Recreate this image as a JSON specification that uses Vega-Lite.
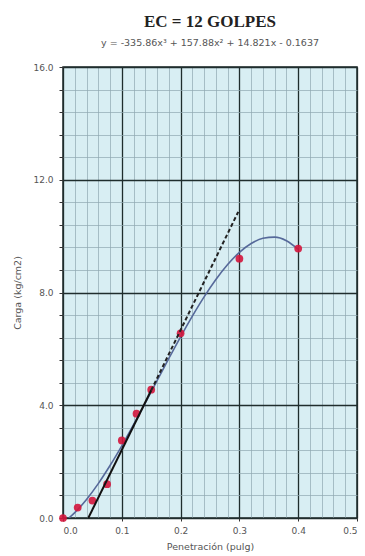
{
  "$schema": "https://vega.github.io/schema/vega-lite/v6.json",
  "autosize": "none",
  "width": 294,
  "height": 451,
  "padding": {"left": 63, "top": 67, "right": 8, "bottom": 38},
  "background": "white",
  "title": {
    "text": "EC = 12 GOLPES",
    "subtitle": "y = -335.86x³ + 157.88x² + 14.821x - 0.1637",
    "font": "Liberation Serif",
    "fontSize": 17,
    "fontWeight": "bold",
    "color": "#222",
    "subtitleFont": "DejaVu Sans",
    "subtitleFontSize": 9.5,
    "subtitleColor": "#555",
    "subtitlePadding": 7,
    "anchor": "middle",
    "offset": 15
  },
  "config": {
    "view": {"fill": "#d8eef3", "stroke": "#1e2a2a", "strokeWidth": 1.5},
    "axis": {
      "labelFont": "DejaVu Sans",
      "titleFont": "DejaVu Sans",
      "labelFontSize": 9,
      "titleFontSize": 9.5,
      "labelColor": "#555",
      "titleColor": "#555",
      "titleFontWeight": "normal",
      "domain": false,
      "tickColor": "#333",
      "tickSize": 3
    }
  },
  "datasets": {
    "pts": [
      {"x": 0.0, "y": 0.0},
      {"x": 0.025, "y": 0.37},
      {"x": 0.05, "y": 0.62},
      {"x": 0.075, "y": 1.2},
      {"x": 0.1, "y": 2.75},
      {"x": 0.125, "y": 3.7},
      {"x": 0.15, "y": 4.55},
      {"x": 0.2, "y": 6.55},
      {"x": 0.3, "y": 9.2},
      {"x": 0.4, "y": 9.56}
    ],
    "curve": [
      {"x": 0.01, "y": 0.0},
      {"x": 0.02, "y": 0.193},
      {"x": 0.04, "y": 0.66},
      {"x": 0.06, "y": 1.221},
      {"x": 0.08, "y": 1.861},
      {"x": 0.1, "y": 2.561},
      {"x": 0.12, "y": 3.308},
      {"x": 0.14, "y": 4.084},
      {"x": 0.16, "y": 4.874},
      {"x": 0.18, "y": 5.661},
      {"x": 0.2, "y": 6.429},
      {"x": 0.22, "y": 7.162},
      {"x": 0.24, "y": 7.844},
      {"x": 0.26, "y": 8.459},
      {"x": 0.28, "y": 8.991},
      {"x": 0.3, "y": 9.424},
      {"x": 0.32, "y": 9.74},
      {"x": 0.34, "y": 9.926},
      {"x": 0.36, "y": 9.963},
      {"x": 0.38, "y": 9.837},
      {"x": 0.4, "y": 9.531}
    ],
    "solid": [
      {"x": 0.043, "y": 0.0},
      {"x": 0.15, "y": 4.53}
    ],
    "dashed": [
      {"x": 0.15, "y": 4.53},
      {"x": 0.298, "y": 10.86}
    ]
  },
  "encoding": {
    "x": {
      "field": "x",
      "type": "quantitative",
      "scale": {"domain": [0, 0.5], "nice": false, "zero": false},
      "axis": {
        "title": "Penetración (pulg)",
        "titlePadding": 6,
        "values": [0,0.02,0.04,0.06,0.08,0.1,0.12,0.14,0.16,0.18,0.2,0.22,0.24,0.26,0.28,0.3,0.32,0.34,0.36,0.38,0.4,0.42,0.44,0.46,0.48,0.5],
        "labelExpr": "abs(datum.value*10 - round(datum.value*10)) < 0.001 ? format(datum.value, '.1f') : ''",
        "grid": true,
        "gridColor": {"condition": {"test": "abs(datum.value*10 - round(datum.value*10)) < 0.001", "value": "#1f2d2d"}, "value": "#8fa7b0"},
        "gridWidth": {"condition": {"test": "abs(datum.value*10 - round(datum.value*10)) < 0.001", "value": 1.3}, "value": 0.7},
        "tickSize": {"condition": {"test": "abs(datum.value*10 - round(datum.value*10)) < 0.001", "value": 3}, "value": 0},
        "labelPadding": 5
      }
    },
    "y": {
      "field": "y",
      "type": "quantitative",
      "scale": {"domain": [0, 16], "nice": false, "zero": false},
      "axis": {
        "title": "Carga (kg/cm2)",
        "titlePadding": 10,
        "values": [0,0.8,1.6,2.4,3.2,4,4.8,5.6,6.4,7.2,8,8.8,9.6,10.4,11.2,12,12.8,13.6,14.4,15.2,16],
        "labelExpr": "abs(datum.value/4 - round(datum.value/4)) < 0.001 ? format(datum.value, '.1f') : ''",
        "grid": true,
        "gridColor": {"condition": {"test": "abs(datum.value/4 - round(datum.value/4)) < 0.001", "value": "#1f2d2d"}, "value": "#8fa7b0"},
        "gridWidth": {"condition": {"test": "abs(datum.value/4 - round(datum.value/4)) < 0.001", "value": 1.3}, "value": 0.7},
        "tickSize": 4,
        "labelPadding": 6
      }
    }
  },
  "layer": [
    {
      "data": {"name": "curve"},
      "mark": {"type": "line", "color": "#56699a", "strokeWidth": 1.6, "interpolate": "monotone", "clip": true}
    },
    {
      "data": {"name": "pts"},
      "mark": {"type": "circle", "color": "#d4153c", "opacity": 0.9, "size": 60}
    },
    {
      "data": {"name": "solid"},
      "mark": {"type": "line", "color": "#111", "strokeWidth": 2}
    },
    {
      "data": {"name": "dashed"},
      "mark": {"type": "line", "color": "#222", "strokeWidth": 2, "strokeDash": [4, 2.5]}
    }
  ]
}
